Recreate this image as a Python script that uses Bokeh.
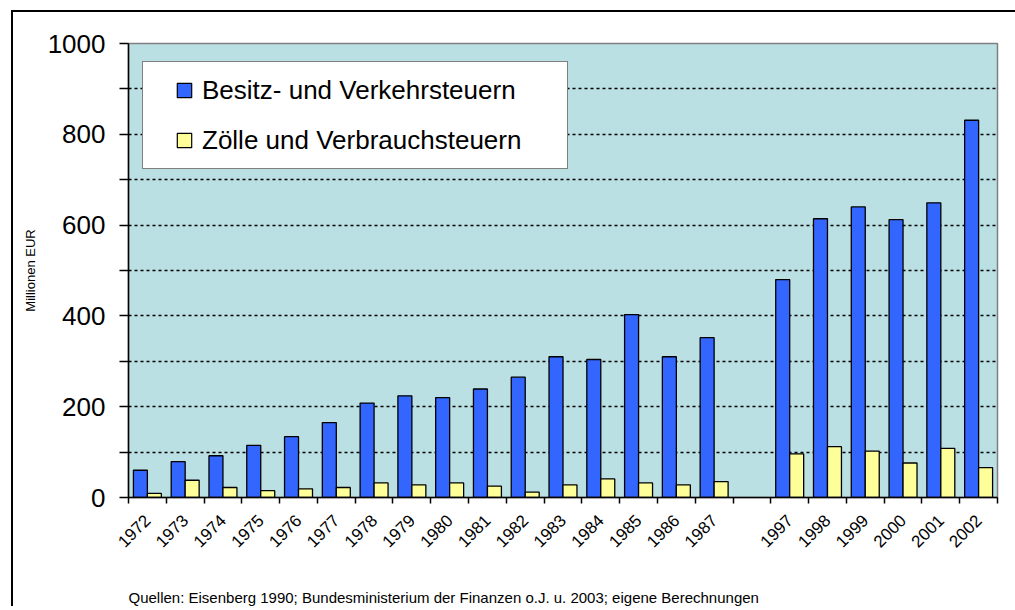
import math
from bokeh.plotting import figure
from bokeh.layouts import column
from bokeh.models import (FixedTicker, Legend, LegendItem, ColumnDataSource, Range1d,
                          Title)
from bokeh.transform import dodge
from bokeh.embed import file_html
from bokeh.resources import INLINE

# ---------------- data ----------------
years = ["1972", "1973", "1974", "1975", "1976", "1977", "1978", "1979",
         "1980", "1981", "1982", "1983", "1984", "1985", "1986", "1987",
         "",
         "1997", "1998", "1999", "2000", "2001", "2002"]
besitz = [60, 79, 92, 115, 134, 165, 208, 224, 220, 239, 265, 310, 304, 403, 310, 352,
          None,
          480, 614, 640, 612, 649, 831]
zoelle = [9, 38, 22, 15, 19, 22, 32, 28, 32, 25, 12, 28, 41, 32, 28, 35,
          None,
          96, 112, 102, 76, 108, 66]
series_names = ["Besitz- und Verkehrsteuern", "Zölle und Verbrauchsteuern"]
series_colors = ["#3366FF", "#FFFF99"]
y_ticks = [0, 100, 200, 300, 400, 500, 600, 700, 800, 900, 1000]
y_title = "Millionen EUR"
source_note = ("Quellen: Eisenberg 1990; Bundesministerium der Finanzen o.J. u. 2003; "
               "eigene Berechnungen")

FONT = "Liberation Sans"

# ---------------- source ----------------
slots = list(range(len(years)))
keep = [i for i in slots if years[i] != ""]
src = ColumnDataSource(dict(
    pos=[slots[i] for i in keep],
    year=[years[i] for i in keep],
    besitz=[besitz[i] for i in keep],
    zoelle=[zoelle[i] for i in keep],
))

# ---------------- figure ----------------
p = figure(width=1015, height=606, output_backend="svg", toolbar_location=None,
           x_range=Range1d(-0.5, len(years) - 0.5), y_range=Range1d(0, 1000),
           min_border_left=128, min_border_right=18, min_border_top=43,
           min_border_bottom=109)

p.background_fill_color = "#BBE0E3"
p.border_fill_color = None
p.outline_line_color = "#7f7f7f"
p.outline_line_width = 1.5

bw = 0.37
r1 = p.vbar(x=dodge("pos", -bw / 2), top="besitz", bottom=0, width=bw, source=src,
            fill_color=series_colors[0], line_color="black", line_width=1.3)
r2 = p.vbar(x=dodge("pos", bw / 2), top="zoelle", bottom=0, width=bw, source=src,
            fill_color=series_colors[1], line_color="black", line_width=1.3)

# legend swatches (square markers, never drawn in the plot: NaN position)
nan = float("nan")
s1 = p.scatter(x=[nan], y=[nan], marker="square", fill_color=series_colors[0],
               line_color="black", line_width=1.2)
s2 = p.scatter(x=[nan], y=[nan], marker="square", fill_color=series_colors[1],
               line_color="black", line_width=1.2)

legend = Legend(items=[LegendItem(label=series_names[0], renderers=[s1]),
                       LegendItem(label=series_names[1], renderers=[s2])],
                location=(14, 328), orientation="vertical",
                title=" ", title_location="left", title_text_font_size="8px",
                title_standoff=5,
                glyph_width=36, glyph_height=38, label_height=38,
                label_standoff=0, label_width=356, padding=9, spacing=12,
                margin=0,
                border_line_color="black", border_line_width=1.5,
                background_fill_color="white", background_fill_alpha=1.0,
                label_text_font=FONT, label_text_font_size="26px",
                label_text_color="black")
p.add_layout(legend, "center")

# grid
p.xgrid.visible = False
p.ygrid.ticker = FixedTicker(ticks=y_ticks)
p.ygrid.grid_line_color = "black"
p.ygrid.grid_line_dash = "3 3"
p.ygrid.grid_line_width = 1.5

# y axis
ya = p.yaxis[0]
ya.ticker = FixedTicker(ticks=y_ticks)
ya.major_label_overrides = {v: (str(v) if v % 200 == 0 else "") for v in y_ticks}
ya.major_tick_out = 9
ya.major_tick_in = 0
ya.minor_tick_out = 0
ya.minor_tick_in = 0
ya.axis_line_color = "black"
ya.axis_line_width = 1.5
ya.major_tick_line_color = "black"
ya.major_tick_line_width = 1.5
ya.major_label_text_font = FONT
ya.major_label_text_font_size = "26px"
ya.major_label_text_color = "black"
ya.major_label_standoff = 14
ya.axis_label = y_title
ya.axis_label_text_font = FONT
ya.axis_label_text_font_size = "13px"
ya.axis_label_text_font_style = "normal"
ya.axis_label_text_color = "black"
ya.axis_label_standoff = 7

# x axis: labels at slot centres, tick marks at slot boundaries
xa = p.xaxis[0]
xa.ticker = FixedTicker(ticks=slots, minor_ticks=[s - 0.5 for s in slots] + [len(years) - 0.5])
xa.major_label_overrides = {s: years[s] for s in slots}
xa.major_label_orientation = math.pi / 4
xa.major_tick_out = 0
xa.major_tick_in = 0
xa.minor_tick_out = 6
xa.minor_tick_in = 0
xa.minor_tick_line_color = "black"
xa.minor_tick_line_width = 1.5
xa.axis_line_color = "black"
xa.axis_line_width = 1.5
xa.major_label_text_font = FONT
xa.major_label_text_font_size = "17px"
xa.major_label_text_color = "black"
xa.major_label_standoff = 14
# invisible spacer label: keeps the source note further below the year labels
xa.axis_label = "\u200b"
xa.axis_label_text_font_size = "1px"
xa.axis_label_standoff = 27

# footer (source note), starting at the left edge of the plot area
note = Title(text=source_note, align="left", standoff=0,
             text_font=FONT, text_font_size="15px",
             text_font_style="normal", text_color="black")
p.add_layout(note, "below")

# outer chart-area frame: left and top edges (the rest runs off the page)
page = column(p)
page.styles = {
    "background-color": "white",
    "background-image": "linear-gradient(#000, #000), linear-gradient(#000, #000)",
    "background-size": "2px 100%, 100% 2px",
    "background-position": "11px 10px, 11px 10px",
    "background-repeat": "no-repeat",
}

open("out.html", "w").write(file_html(page, INLINE))
